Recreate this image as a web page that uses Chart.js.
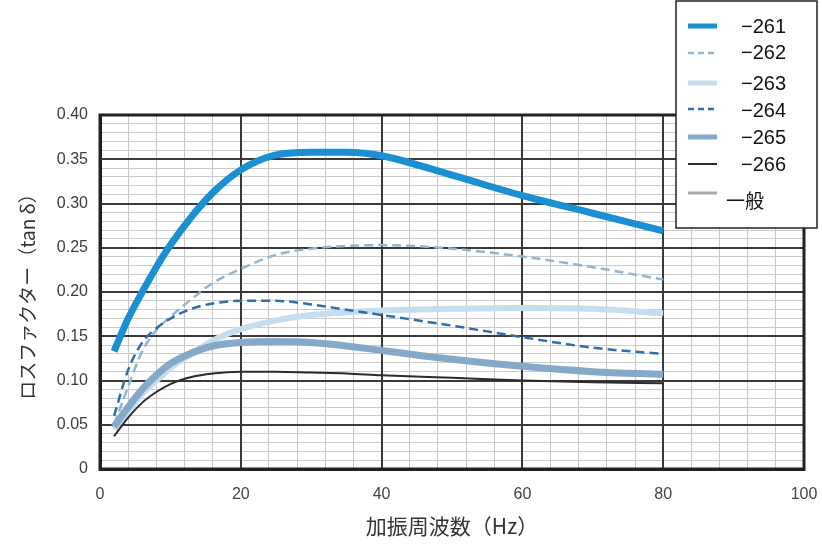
<!DOCTYPE html>
<html>
<head>
<meta charset="utf-8">
<script src="https://cdn.jsdelivr.net/npm/chart.js@4.4.1/dist/chart.umd.min.js"></script>
<style>
  html, body { margin: 0; padding: 0; background: #fff; }
  #wrap { width: 822px; height: 545px; position: relative; }
</style>
</head>
<body>
<div id="wrap"><canvas id="lossChart" width="822" height="545"></canvas></div>
<script>
// 加振周波数 (Hz)
const freqs = [2, 4, 6, 8, 10, 13, 16, 20, 25, 30, 35, 40, 50, 60, 70, 80];

const s261 = [0.133, 0.170, 0.200, 0.228, 0.253, 0.285, 0.312, 0.338, 0.355, 0.358, 0.358, 0.354, 0.332, 0.309, 0.289, 0.269];
const s262 = [0.050, 0.093, 0.133, 0.157, 0.172, 0.192, 0.210, 0.226, 0.242, 0.249, 0.252, 0.253, 0.249, 0.240, 0.228, 0.214];
const s263 = [0.045, 0.065, 0.085, 0.100, 0.114, 0.130, 0.145, 0.158, 0.168, 0.174, 0.177, 0.179, 0.181, 0.182, 0.181, 0.176];
const s264 = [0.060, 0.112, 0.143, 0.159, 0.170, 0.181, 0.187, 0.190, 0.190, 0.186, 0.180, 0.174, 0.162, 0.149, 0.137, 0.130];
const s265 = [0.048, 0.070, 0.090, 0.106, 0.119, 0.131, 0.139, 0.143, 0.144, 0.143, 0.139, 0.134, 0.124, 0.116, 0.110, 0.107];
const s266 = [0.037, 0.058, 0.075, 0.087, 0.096, 0.104, 0.108, 0.110, 0.110, 0.109, 0.108, 0.106, 0.103, 0.100, 0.098, 0.097];
const sGeneral = [];

const seriesLabels = ["−261", "−262", "−263", "−264", "−265", "−266", "一般"];

const yTickLabels = ["0", "0.05", "0.10", "0.15", "0.20", "0.25", "0.30", "0.35", "0.40"];
const xTickLabels = ["0", "20", "40", "60", "80", "100"];

function pts(vals) {
    return vals.map((v, i) => ({ x: freqs[i], y: v }));
}

const styles = [
    { color: "#1a8fd2", width: 7, dash: [] },
    { color: "#93b5d0", width: 2.5, dash: [9, 5] },
    { color: "#c6ddee", width: 6, dash: [] },
    { color: "#2d6fad", width: 2.5, dash: [9, 5] },
    { color: "#86a9c9", width: 7, dash: [] },
    { color: "#2b2b2b", width: 2, dash: [] },
    { color: "#a9a9a9", width: 3, dash: [] }
];

const allSeries = [s261, s262, s263, s264, s265, s266, sGeneral];

// draw order: pale ones first
const drawOrder = [5, 4, 3, 2, 1, 0, 6];

const datasets = allSeries.map((vals, i) => ({
    label: seriesLabels[i],
    data: pts(vals),
    borderColor: styles[i].color,
    borderWidth: styles[i].width,
    borderDash: styles[i].dash,
    pointRadius: 0,
    fill: false,
    cubicInterpolationMode: "monotone",
    order: drawOrder[i]
}));

const isMajorX = v => v % 20 === 0;
const isMajorY = v => Math.round(v * 100) % 5 === 0;

// the light minor lines are painted over the dark ones, so paint the majors again
const majorGrid = {
    id: "majorGrid",
    beforeDatasetsDraw(chart) {
        const { ctx, chartArea: a, scales: { x, y } } = chart;
        ctx.save();
        ctx.strokeStyle = "#3a3a3a";
        ctx.lineWidth = 2;
        x.ticks.forEach(t => {
            if (!isMajorX(t.value)) return;
            const px = Math.round(x.getPixelForValue(t.value));
            ctx.beginPath();
            ctx.moveTo(px, a.top);
            ctx.lineTo(px, a.bottom);
            ctx.stroke();
        });
        y.ticks.forEach(t => {
            if (!isMajorY(t.value)) return;
            const py = Math.round(y.getPixelForValue(t.value));
            ctx.beginPath();
            ctx.moveTo(a.left, py);
            ctx.lineTo(a.right, py);
            ctx.stroke();
        });
        ctx.lineWidth = 3;
        ctx.strokeStyle = "#222";
        ctx.strokeRect(a.left, a.top, a.right - a.left, a.bottom - a.top);
        ctx.restore();
    }
};

const legendBox = {
    id: "legendBox",
    afterDraw(chart) {
        const ctx = chart.ctx;
        const sampleY = [26, 53, 83, 109, 137, 164, 193];
        const textY = [27, 53, 84, 111, 138, 165, 201];
        ctx.save();
        ctx.fillStyle = "#fff";
        ctx.fillRect(676, 1, 141, 227);
        ctx.strokeStyle = "#222";
        ctx.lineWidth = 1.5;
        ctx.strokeRect(676, 1, 141, 227);
        chart.data.datasets.forEach((ds, i) => {
            ctx.beginPath();
            ctx.strokeStyle = ds.borderColor;
            ctx.lineWidth = Math.min(ds.borderWidth, 5);
            ctx.setLineDash(ds.borderDash.length ? [6, 4] : []);
            ctx.moveTo(688, sampleY[i]);
            ctx.lineTo(717, sampleY[i]);
            ctx.stroke();
            ctx.setLineDash([]);
            ctx.fillStyle = "#111";
            ctx.textBaseline = "middle";
            ctx.textAlign = "left";
            if (i === 6) {
                ctx.font = "19px 'Noto Sans CJK JP'";
                ctx.fillText(ds.label, 726, textY[i]);
            } else {
                ctx.font = "20px 'Liberation Sans'";
                ctx.fillText(ds.label, 741, textY[i]);
            }
        });
        ctx.restore();
    }
};

new Chart(document.getElementById("lossChart"), {
    type: "line",
    data: { datasets: datasets },
    options: {
        responsive: false,
        animation: false,
        layout: { padding: { top: 115, right: 18, left: 0, bottom: 0 } },
        plugins: { legend: { display: false }, tooltip: { enabled: false } },
        scales: {
            x: {
                type: "linear",
                min: 0,
                max: 100,
                afterFit: s => {
                    s.height = 76;
                    s.paddingLeft = 0;
                    s.paddingRight = 0;
                },
                ticks: {
                    stepSize: 4,
                    autoSkip: false,
                    maxRotation: 0,
                    padding: 16,
                    color: "#444",
                    font: { family: "Liberation Sans", size: 16 },
                    callback: v => (isMajorX(v) ? xTickLabels[v / 20] : "")
                },
                grid: {
                    drawTicks: false,
                    color: "#c6c6c6",
                    lineWidth: 1
                },
                border: { color: "#222", width: 3 },
                title: {
                    display: true,
                    text: "加振周波数（Hz）",
                    color: "#333",
                    font: { family: "Noto Sans CJK JP", size: 21 },
                    padding: { top: 0, bottom: 6 }
                }
            },
            y: {
                min: 0,
                max: 0.4,
                afterFit: s => { s.width = 100; },
                ticks: {
                    stepSize: 0.01,
                    autoSkip: false,
                    padding: 12,
                    color: "#3c3c3c",
                    font: { family: "Liberation Sans", size: 16 },
                    callback: v => {
                        const k = Math.round(v * 100);
                        return k % 5 === 0 ? yTickLabels[k / 5] : "";
                    }
                },
                grid: {
                    drawTicks: false,
                    color: "#cbcbcb",
                    lineWidth: 1
                },
                border: { color: "#222", width: 3 },
                title: {
                    display: true,
                    text: "ロスファクター（tan δ）",
                    color: "#333",
                    font: { family: "Noto Sans CJK JP", size: 19 },
                    padding: { top: 16, bottom: 4 }
                }
            }
        }
    },
    plugins: [majorGrid, legendBox]
});
</script>
</body>
</html>
